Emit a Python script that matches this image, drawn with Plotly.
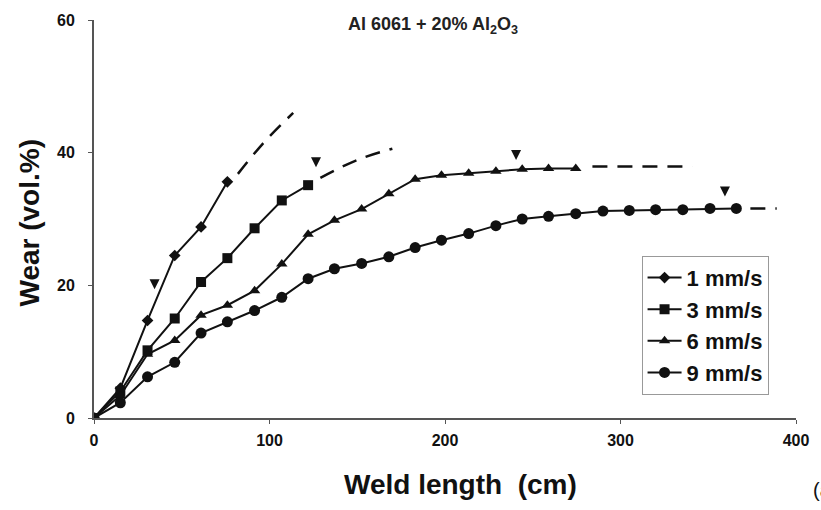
import plotly.graph_objects as go

# ---- data ----
x1 = [0, 15, 30.5, 46, 61, 76]
y1 = [0, 4.5, 14.7, 24.5, 28.8, 35.6]
x1_ext = [82, 96, 113.5]
y1_ext = [36.8, 41.3, 46.0]

x3 = [0, 15, 30.5, 46, 61, 76, 91.5, 107, 122]
y3 = [0, 4.0, 10.2, 15.0, 20.5, 24.1, 28.6, 32.8, 35.1]
x3_ext = [129, 150, 170]
y3_ext = [36.2, 38.9, 40.6]

x6 = [0, 15, 30.5, 46, 61, 76, 91.5, 107, 122, 137, 152.5, 168, 183, 198, 213.5, 229, 244, 259, 274.5]
y6 = [0, 3.4, 9.6, 11.7, 15.5, 17.0, 19.2, 23.2, 27.7, 29.8, 31.5, 33.8, 36.0, 36.6, 36.9, 37.2, 37.5, 37.6, 37.6]
x6_ext = [284, 341]
y6_ext = [37.9, 37.9]

x9 = [0, 15, 30.5, 46, 61, 76, 91.5, 107, 122, 137, 152.5, 168, 183, 198, 213.5, 229, 244,
      259, 274.5, 290, 305, 320, 335.5, 351, 366]
y9 = [0, 2.3, 6.2, 8.4, 12.8, 14.5, 16.2, 18.2, 21.0, 22.5, 23.3, 24.3, 25.7, 26.8, 27.8, 29.0, 30.0,
      30.4, 30.8, 31.2, 31.3, 31.4, 31.4, 31.6, 31.6]
x9_ext = [374, 389]
y9_ext = [31.6, 31.6]

# transition markers (tips)
xm = [34.5, 126.5, 240.5, 359.5]
ym = [19.4, 37.8, 38.9, 33.4]

names = ["1 mm/s", "3 mm/s", "6 mm/s", "9 mm/s"]
x_ticks = [0, 100, 200, 300, 400]
y_ticks = [0, 20, 40, 60]

fig = go.Figure()
series = [
    (x1, y1, x1_ext, y1_ext, "diamond", 9),
    (x3, y3, x3_ext, y3_ext, "square", 10),
    (x6, y6, x6_ext, y6_ext, "triangle-up", 10),
    (x9, y9, x9_ext, y9_ext, "circle", 11),
]
for (xs, ys, xe, ye, sym, sz), nm in zip(series, names):
    fig.add_trace(go.Scatter(
        x=xe, y=ye, mode="lines", showlegend=False,
        line=dict(color="#111", width=2.5, dash="15px,10px", shape="spline"),
        hoverinfo="skip"))
    fig.add_trace(go.Scatter(
        x=xs, y=ys, mode="lines+markers", name=nm,
        line=dict(color="#111", width=2),
        marker=dict(symbol=sym, size=sz, color="#111")))

fig.add_trace(go.Scatter(
    x=xm, y=ym, mode="markers", showlegend=False,
    marker=dict(symbol="arrow-down", size=10, color="#111")))

font_family = "Liberation Sans, Arial, sans-serif"
fig.update_layout(
    width=821, height=510,
    margin=dict(l=94, r=17, t=18, b=92),
    paper_bgcolor="white", plot_bgcolor="white",
    font=dict(family=font_family, color="#111"),
    xaxis=dict(range=[0, 400], tickvals=x_ticks, showgrid=False, zeroline=False,
               showline=True, linecolor="#555", linewidth=2, ticks="outside",
               ticklen=4, tickcolor="#555", ticklabelstandoff=3,
               tickfont=dict(size=16, weight="bold", color="#111")),
    yaxis=dict(range=[0, 60], tickvals=y_ticks, showgrid=False, zeroline=False,
               showline=True, linecolor="#555", linewidth=2, ticks="outside",
               ticklen=4, tickcolor="#555", ticklabelstandoff=10,
               tickfont=dict(size=16, weight="bold", color="#111")),
    legend=dict(x=0.78, y=0.4075, xanchor="left", yanchor="top",
                bordercolor="#999", borderwidth=1, bgcolor="white",
                font=dict(size=22, family=font_family, color="#111", weight="bold"),
                tracegroupgap=0, itemwidth=34),
    showlegend=True,
)
fig.add_annotation(text="Al 6061 + 20% Al<sub>2</sub>O<sub>3</sub>", xref="paper", yref="paper",
                   x=0.483, y=0.985, xanchor="center", yanchor="middle", showarrow=False,
                   font=dict(size=18, color="#222", weight="bold"))
fig.add_annotation(text="Weld length  (cm)", xref="paper", yref="paper",
                   x=0.5226, y=-0.1675, xanchor="center", yanchor="middle", showarrow=False,
                   font=dict(size=28, color="#111", weight="bold"))
fig.add_annotation(text="Wear (vol.%)", xref="paper", yref="paper", textangle=-90,
                   x=-0.0918, y=0.49, xanchor="center", yanchor="middle", showarrow=False,
                   font=dict(size=28, color="#111", weight="bold"))
fig.add_annotation(text="(a)", xref="paper", yref="paper", xanchor="left", yanchor="middle",
                   x=1.021, y=-0.18, showarrow=False, font=dict(size=20, color="#111"))

fig.write_html("out.html")
